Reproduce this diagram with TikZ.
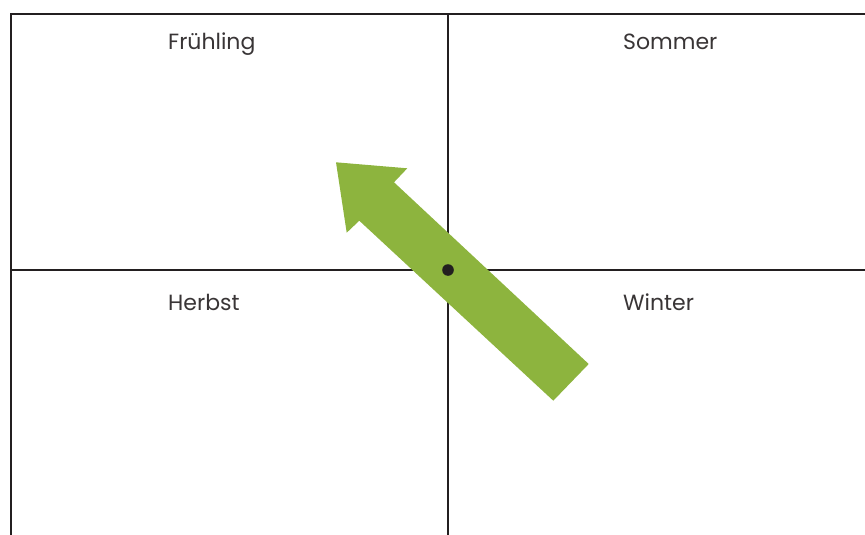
\documentclass[tikz,border=0pt]{standalone}
\usepackage{fontspec}
\setmainfont{Poppins}
\definecolor{arrowgreen}{HTML}{8DB43E}
\definecolor{lineblack}{HTML}{231F20}
\tikzset{
  gridline/.style={draw=lineblack, line width=2pt},
  season/.style={anchor=base west, inner sep=0pt, font=\fontsize{22}{26}\selectfont, text=lineblack!90}
}
\begin{document}
\begin{tikzpicture}[x=1pt,y=-1pt]
\useasboundingbox (0,0) rectangle (865,535);
\coordinate (tl) at (11,14);
\coordinate (tr) at (865,14);
\coordinate (bl) at (11,535);
\coordinate (tm) at (448,14);
\coordinate (bm) at (448,535);
\coordinate (ml) at (11,270);
\coordinate (mr) at (865,270);
\draw[gridline] (tr) -- (tl) -- (bl);
\draw[gridline] (tm) -- (bm);
\draw[gridline] (ml) -- (mr);
\node[season] (fr) at (168,50) {Frühling};
\node[season] (so) at (623,50) {Sommer};
\node[season] (he) at (168,310) {Herbst};
\node[season] (wi) at (623,310) {Winter};
\fill[arrowgreen] (336,162.3) -- (407.3,168.3) -- (394,182.3) -- (588.7,364) -- (553.3,400.7) -- (359.3,220.7) -- (346.7,232.7) -- cycle;
\fill[lineblack] (448,270) circle (5.8);
\end{tikzpicture}
\end{document}
